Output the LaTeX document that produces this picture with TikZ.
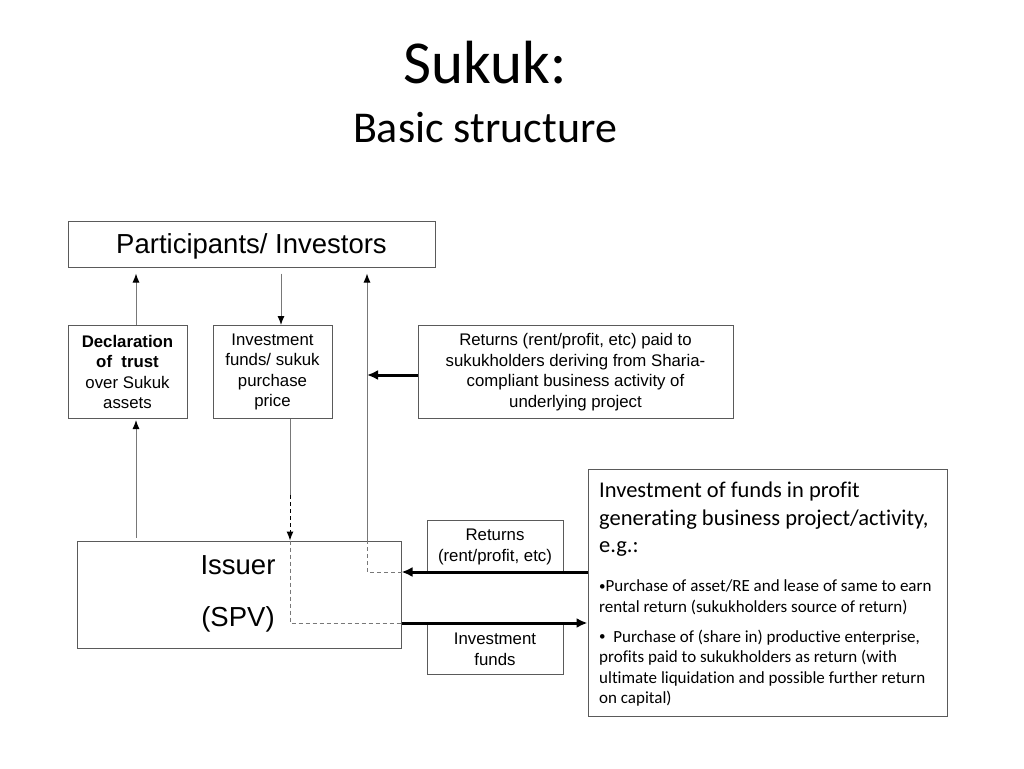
\documentclass[tikz,border=0pt]{standalone}
\usepackage{fontspec}
\setmainfont{Liberation Sans}
\newfontfamily\calfont[Ligatures=NoCommon]{Carlito}
\usetikzlibrary{arrows.meta}
\definecolor{boxgray}{RGB}{90,90,90}
\definecolor{linegray}{RGB}{120,120,120}
\newcommand{\smbul}{{\fontsize{13}{13}\selectfont\raisebox{1.5pt}{\textbullet}}}
\begin{document}
\begin{tikzpicture}[x=1pt,y=-1pt,
  box/.style={draw=boxgray, line width=1pt, inner sep=0pt, align=center,
    font=\fontsize{16.8}{20.6}\selectfont},
  thinline/.style={draw=linegray, line width=1pt},
  thinarr/.style={thinline, -{Latex[length=9pt,width=7pt,color=black]}},
  thickarr/.style={draw=black, line width=3pt, -{Latex[length=11pt,width=10pt]}},
  dashline/.style={draw=linegray, line width=1pt, dash pattern=on 4pt off 3pt},
  txt/.style={inner sep=0pt, align=left}
]
\useasboundingbox (0,0) rectangle (1024,768);

% titles
\node[anchor=base, inner sep=0pt, font=\calfont\fontsize{61}{61}\selectfont] (t1) at (485,83) {Sukuk:};
\node[anchor=base, inner sep=0pt, font=\calfont\fontsize{44}{44}\selectfont] (t2) at (485,142) {Basic structure};

% boxes
\node[box, minimum width=367pt, minimum height=46pt] (part) at (251.5,244) {};
\node[txt, font=\fontsize{27.5}{30}\selectfont] (parttxt) at (251.5,246.5) {Participants/ Investors};
\node[box, minimum width=119pt, minimum height=93pt] (decl) at (127.5,372) {\textbf{Declaration}\\\textbf{of\ \ trust}\\over Sukuk\\assets};
\node[box, minimum width=119pt, minimum height=93pt] (inv) at (272.5,372) {Investment\\funds/ sukuk\\purchase\\price};
\node[box, minimum width=315pt, minimum height=93pt] (ret) at (575.5,372) {Returns (rent/profit, etc) paid to\\sukukholders deriving from Sharia-\\compliant business activity of\\underlying project};
\node[box, minimum width=324pt, minimum height=107pt] (issuer) at (239,594.5) {};
\node[txt, align=center, font=\fontsize{27.5}{52}\selectfont] (isstxt) at (238,594) {Issuer\\(SPV)};
\node[box, minimum width=136pt, minimum height=53pt] (retsm) at (495,547) {Returns\\(rent/profit, etc)};
\node[box, minimum width=136pt, minimum height=50pt] (invsm) at (495,649.5) {Investment\\funds};
\node[box, minimum width=359pt, minimum height=247pt] (right) at (767.5,592.5) {};

% right box texts
\node[txt, anchor=west, font=\calfont\fontsize{22.5}{27.5}\selectfont] (rt1) at (599,519.5)
  {Investment of funds in profit\\generating business project/activity,\\e.g.:};
\node[txt, anchor=west, font=\calfont\fontsize{17}{20.5}\selectfont] (rt2) at (599,597.5)
  {\smbul Purchase of asset/RE and lease of same to earn\\rental return (sukukholders source of return)};
\node[txt, anchor=west, font=\calfont\fontsize{17}{20.5}\selectfont] (rt3) at (599,668)
  {\smbul\ \ Purchase of (share in) productive enterprise,\\profits paid to sukukholders as return (with\\ultimate liquidation and possible further return\\on capital)};

% helper coordinates
\coordinate (xa) at (136,0);
\coordinate (xb) at (281,0);
\coordinate (xc) at (290,0);
\coordinate (xd) at (367,0);
\coordinate (ya) at (0,572);
\coordinate (yb) at (0,623);
\coordinate (yc) at (0,495);
\coordinate (yd) at (0,540);
\coordinate (ye) at (0,375);

% connectors
\draw[thinarr, shorten >=6pt] (decl.north -| xa) -- (part.south -| xa);
\draw[thinarr, shorten <=6pt] (part.south -| xb) -- (inv.north -| xb);
\draw[thinarr, shorten <=3pt, shorten >=1pt] (issuer.north -| xa) -- (decl.south -| xa);

\draw[thinline] (inv.south -| xc) -- (yc -| xc);
\draw[dashline, draw=black, -{Latex[length=9pt,width=7pt]}] (yc -| xc) -- (issuer.north -| xc);
\draw[dashline] (issuer.north -| xc) -- (yb -| xc) -- (yb -| issuer.east);
\draw[thickarr] (yb -| issuer.east) -- (yb -| right.west);

\draw[thickarr] (ya -| right.west) -- (ya -| issuer.east);
\draw[dashline] (ya -| issuer.east) -- (ya -| xd) -- (yd -| xd);
\draw[thinarr, shorten >=6pt] (yd -| xd) -- (part.south -| xd);

\draw[thickarr] (ye -| ret.west) -- (ye -| xd);
\end{tikzpicture}
\end{document}
